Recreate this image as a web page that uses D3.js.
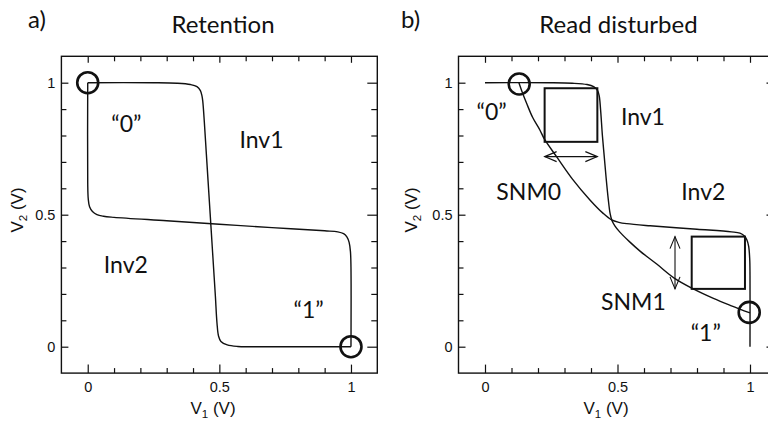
<!DOCTYPE html>
<html>
<head>
<meta charset="utf-8">
<script src="https://cdn.jsdelivr.net/npm/d3@7"></script>
<style>
  body { margin: 0; background: #fff; }
  svg { display: block; }
</style>
</head>
<body>
<svg id="chart" width="768" height="422"></svg>
<script>
// SRAM butterfly curves: output of each inverter plotted as V2 against V1 (volts)

// Ticks shared by both panels
const axisTicks = [0, 0.1, 0.2, 0.3, 0.4, 0.5, 0.6, 0.7, 0.8, 0.9, 1];
const majorTicks = [0, 0.5, 1];
const majorTickLabels = ["0", "0.5", "1"];

// Retention: [V1, V2] points of each inverter transfer curve
const retentionInv1 = [[0, 1], [0.25, 1], [0.34, 0.998], [0.39, 0.993], [0.415, 0.985], [0.428, 0.97],
  [0.434, 0.95], [0.437, 0.93], [0.443, 0.85], [0.450, 0.74], [0.457, 0.63], [0.464, 0.52], [0.471, 0.41],
  [0.478, 0.30], [0.485, 0.19], [0.491, 0.09], [0.497, 0.04], [0.506, 0.02], [0.53, 0.007], [0.57, 0.001],
  [0.62, 0], [1, 0]];
const retentionInv2 = [[0, 1], [0, 0.62], [0.002, 0.56], [0.007, 0.53], [0.018, 0.512], [0.035, 0.5],
  [0.06, 0.494], [0.1, 0.49], [0.3, 0.477], [0.5, 0.464], [0.7, 0.451], [0.9, 0.439], [0.95, 0.435],
  [0.972, 0.428], [0.985, 0.415], [0.993, 0.395], [0.998, 0.36], [1, 0.3], [1, 0]];
const retentionStates = [[0, 1], [1, 0]];

// Read disturbed: [V1, V2] points of each inverter transfer curve
const readInv1 = [[0, 1], [0.25, 1], [0.33, 0.998], [0.385, 0.993], [0.41, 0.985], [0.424, 0.972],
  [0.431, 0.95], [0.436, 0.9], [0.443, 0.8], [0.45, 0.72], [0.457, 0.64], [0.465, 0.56], [0.472, 0.505],
  [0.479, 0.478], [0.49, 0.458], [0.509, 0.434], [0.545, 0.398], [0.585, 0.362], [0.648, 0.313],
  [0.714, 0.26], [0.786, 0.219], [0.862, 0.183], [0.93, 0.155], [1, 0.128]];
const readInv2 = [[0.128, 1], [0.142, 0.96], [0.157, 0.922], [0.18, 0.868], [0.2075, 0.82], [0.225, 0.785],
  [0.27, 0.72], [0.33, 0.635], [0.396, 0.556], [0.446, 0.505], [0.478, 0.48], [0.505, 0.471], [0.535, 0.466],
  [0.623, 0.458], [0.8, 0.445], [0.93, 0.435], [0.962, 0.43], [0.978, 0.42], [0.988, 0.405], [0.995, 0.38],
  [0.999, 0.33], [1, 0.27], [1, 0]];
const readStates = [[0.129, 0.995], [0.997, 0.13]];

// Static noise margin squares [V1 min, V2 min, V1 max, V2 max] and their arrows
const snmSquares = [[0.225, 0.776, 0.424, 0.979], [0.78, 0.219, 0.981, 0.417]];
const snmArrows = [[[0.225, 0.72], [0.424, 0.72]], [[0.717, 0.417], [0.717, 0.219]]];

// Annotations: [text, V1, V2] (text centre, baseline)
const retentionNotes = [["\u201C0\u201D", 0.147, 0.813], ["Inv1", 0.66, 0.753], ["Inv2", 0.145, 0.279], ["\u201C1\u201D", 0.839, 0.109]];
const readNotes = [["\u201C0\u201D", 0.025, 0.859], ["Inv1", 0.596, 0.84], ["SNM0", 0.165, 0.556],
  ["Inv2", 0.824, 0.556], ["SNM1", 0.56, 0.139], ["\u201C1\u201D", 0.833, 0.022]];

const svg = d3.select("#chart");
const ink = "#111";
const axisFont = "'Liberation Sans', Arial, sans-serif";
const labelFont = "Lato, 'Open Sans', sans-serif";

svg.append("defs").append("marker")
  .attr("id", "chev")
  .attr("markerUnits", "userSpaceOnUse")
  .attr("viewBox", "-1 -7 15 14")
  .attr("markerWidth", 15).attr("markerHeight", 14)
  .attr("refX", 12).attr("refY", 0)
  .attr("orient", "auto-start-reverse")
  .append("path")
  .attr("d", "M0,-5 L12,0 L0,5")
  .attr("fill", "none").attr("stroke", ink).attr("stroke-width", 1.1);

const y = d3.scaleLinear().domain([-0.1, 1.1]).range([373.1, 56.3]);

const panels = [
  { tag: "a)", tagX: 28, title: "Retention", titleX: 223,
    x: d3.scaleLinear().domain([-0.1, 1.1]).range([61.4, 377.3]),
    curves: [retentionInv1, retentionInv2], states: retentionStates, notes: retentionNotes,
    squares: [], arrows: [], xLabelX: 213, yLabelX: 22.5 },
  { tag: "b)", tagX: 401, title: "Read disturbed", titleX: 618.5,
    x: d3.scaleLinear().domain([-0.1, 1.1]).range([458.5, 776.5]),
    curves: [readInv1, readInv2], states: readStates, notes: readNotes,
    squares: snmSquares, arrows: snmArrows, xLabelX: 606, yLabelX: 417 }
];

const isMajor = d => majorTicks.some(m => Math.abs(m - d) < 1e-9);
const tickText = d => {
  const i = majorTicks.findIndex(m => Math.abs(m - d) < 1e-9);
  return i < 0 ? "" : majorTickLabels[i];
};

panels.forEach(p => {
  const x = p.x;
  const g = svg.append("g");
  const [x0, x1] = x.range();
  const [y0, y1] = y.range();

  // axes: inward ticks, labels only at the major values
  const bottom = g.append("g").attr("transform", `translate(0,${y0})`)
    .call(d3.axisBottom(x).tickValues(axisTicks).tickSizeInner(-5).tickSizeOuter(0).tickPadding(9).tickFormat(tickText));
  const left = g.append("g").attr("transform", `translate(${x0},0)`)
    .call(d3.axisLeft(y).tickValues(axisTicks).tickSizeInner(-5).tickSizeOuter(0).tickPadding(6).tickFormat(tickText));
  const top = g.append("g").attr("transform", `translate(0,${y1})`)
    .call(d3.axisTop(x).tickValues(axisTicks).tickSizeInner(-5).tickSizeOuter(0).tickFormat(""));
  const right = g.append("g").attr("transform", `translate(${x1},0)`)
    .call(d3.axisRight(y).tickValues(axisTicks).tickSizeInner(-6).tickSizeOuter(0).tickFormat(""));

  bottom.selectAll(".tick line").filter(isMajor).attr("y2", -8.5);
  top.selectAll(".tick line").filter(isMajor).attr("y2", 6.5);
  left.selectAll(".tick line").filter(isMajor).attr("x2", 7);
  right.selectAll(".tick line").filter(isMajor).attr("x2", -10);

  [bottom, left, top, right].forEach(a => {
    a.select(".domain").remove();
    a.selectAll(".tick line").attr("stroke", ink).attr("stroke-width", 1.2);
    a.selectAll("text").attr("font-family", axisFont).attr("font-size", 14.5).attr("fill", ink);
  });

  g.append("rect")
    .attr("x", x0).attr("y", y1).attr("width", x1 - x0).attr("height", y0 - y1)
    .attr("fill", "none").attr("stroke", ink).attr("stroke-width", 1.4);

  // axis titles
  const xl = g.append("text").attr("x", p.xLabelX).attr("y", 414)
    .attr("text-anchor", "middle").attr("font-family", axisFont).attr("font-size", 17).attr("fill", ink);
  xl.append("tspan").text("V");
  xl.append("tspan").attr("font-size", 11.5).attr("dy", 4).text("1");
  xl.append("tspan").attr("dy", -4).text(" (V)");

  const yl = g.append("text").attr("transform", `translate(${p.yLabelX},${210}) rotate(-90)`)
    .attr("text-anchor", "middle").attr("font-family", axisFont).attr("font-size", 17).attr("fill", ink);
  yl.append("tspan").text("V");
  yl.append("tspan").attr("font-size", 11.5).attr("dy", 4).text("2");
  yl.append("tspan").attr("dy", -4).text(" (V)");

  // panel tag and title
  g.append("text").attr("x", p.tagX).attr("y", 28).text(p.tag)
    .attr("font-family", labelFont).attr("font-size", 24).attr("fill", ink);
  g.append("text").attr("x", p.titleX).attr("y", 33).text(p.title).attr("text-anchor", "middle")
    .attr("font-family", labelFont).attr("font-size", 24).attr("fill", ink);

  // transfer curves
  const line = d3.line().x(d => x(d[0])).y(d => y(d[1])).curve(d3.curveCatmullRom.alpha(0.5));
  g.selectAll("path.curve").data(p.curves).join("path")
    .attr("class", "curve").attr("d", line)
    .attr("fill", "none").attr("stroke", ink).attr("stroke-width", 1.4);

  // noise margin squares and arrows
  g.selectAll("rect.snm").data(p.squares).join("rect")
    .attr("class", "snm")
    .attr("x", d => x(d[0])).attr("y", d => y(d[3]))
    .attr("width", d => x(d[2]) - x(d[0])).attr("height", d => y(d[1]) - y(d[3]))
    .attr("fill", "none").attr("stroke", ink).attr("stroke-width", 2);
  g.selectAll("line.arrow").data(p.arrows).join("line")
    .attr("class", "arrow")
    .attr("x1", d => x(d[0][0])).attr("y1", d => y(d[0][1]))
    .attr("x2", d => x(d[1][0])).attr("y2", d => y(d[1][1]))
    .attr("stroke", ink).attr("stroke-width", 1.1)
    .attr("marker-start", "url(#chev)").attr("marker-end", "url(#chev)");

  // stable states
  g.selectAll("circle.state").data(p.states).join("circle")
    .attr("class", "state")
    .attr("cx", d => x(d[0])).attr("cy", d => y(d[1])).attr("r", 10.5)
    .attr("fill", "none").attr("stroke", ink).attr("stroke-width", 2.6);

  // annotations
  g.selectAll("text.note").data(p.notes).join("text")
    .attr("class", "note")
    .attr("x", d => x(d[1])).attr("y", d => y(d[2]))
    .attr("text-anchor", "middle")
    .attr("font-family", labelFont).attr("font-size", 23).attr("fill", ink)
    .text(d => d[0]);
});
</script>
</body>
</html>
